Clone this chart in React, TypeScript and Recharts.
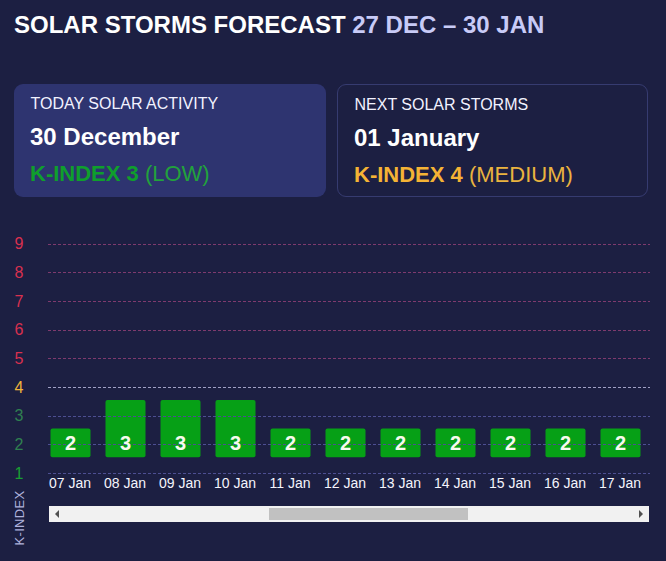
import React from 'react';
import { ComposedChart, Bar, Line, XAxis, YAxis, ReferenceLine, LabelList } from 'recharts';

const DATES = ['07 Jan', '08 Jan', '09 Jan', '10 Jan', '11 Jan', '12 Jan', '13 Jan', '14 Jan', '15 Jan', '16 Jan', '17 Jan'];
const K_VALUES = [2, 3, 3, 3, 2, 2, 2, 2, 2, 2, 2];
const K_FLOOR = 1;
const LEVELS = [1, 2, 3, 4, 5, 6, 7, 8, 9];
const LEVEL_TEXT = ['#18a032', '#2f8050', '#2f8050', '#f0b43a', '#d9304f', '#d9304f', '#d9304f', '#d9304f', '#d9304f'];
const LEVEL_GRID = ['#4d4f92', '#4d4f92', '#4d4f92', '#a0a0c4', '#7e3a6e', '#7e3a6e', '#7e3a6e', '#7e3a6e', '#7e3a6e'];

const data = DATES.map((date, i) => ({ date, k: K_VALUES[i] }));

const FONT = '"Liberation Sans", Arial, sans-serif';
const BG = '#1c1f42';

const YTick = (props: any) => {
  const { y, payload } = props;
  const idx = LEVELS.indexOf(payload.value);
  return (
    <text x={19} y={y} dy="0.35em" textAnchor="middle" fontFamily={FONT} fill={LEVEL_TEXT[idx]} style={{ fontSize: 16 }}>
      {payload.value}
    </text>
  );
};

const BarValue = (props: any) => {
  const { x, y, width, height, value } = props;
  return (
    <text
      x={x + width / 2}
      y={y + height - 14.5}
      dy="0.36em"
      textAnchor="middle"
      fontWeight="bold"
      fontFamily={FONT}
      fill="#f6fbee"
      style={{ fontSize: 20 }}
    >
      {value}
    </text>
  );
};

const GridShape = (props: any) => {
  const { x1, x2, y1, stroke, strokeDasharray } = props;
  const yy = Math.round(y1) + 0.5;
  return <line x1={x1 + 5.5} x2={x2 + 2.5} y1={yy} y2={yy} stroke={stroke} strokeWidth={1} strokeDasharray={strokeDasharray} />;
};

const abs = (s: React.CSSProperties): React.CSSProperties => ({ position: 'absolute', whiteSpace: 'nowrap', ...s });

const Card = ({ left, filled, label, date, kText, levelText, kColor, levelColor }: any) => (
  <div
    style={abs({
      left,
      top: 84,
      width: filled ? 312 : 309,
      height: filled ? 113 : 111,
      borderRadius: 9,
      background: filled ? '#2e3470' : 'transparent',
      border: filled ? 'none' : '1px solid #363b70',
    })}
  >
    <div style={abs({ left: 16.5, top: 95.5 - 84, fontSize: 16, lineHeight: '16px', color: '#f2f2ff' })}>{label}</div>
    <div style={abs({ left: 16, top: 124.7 - 84, fontSize: 24, lineHeight: '24px', fontWeight: 'bold', color: '#ffffff' })}>{date}</div>
    <div style={abs({ left: 16, top: 163.1 - 84, fontSize: 22, lineHeight: '22px' })}>
      <span style={{ fontWeight: 'bold', color: kColor }}>{kText}</span>
      <span style={{ color: levelColor }}> {levelText}</span>
    </div>
  </div>
);

export default function App() {
  return (
    <div style={{ position: 'absolute', left: 0, top: 0, width: 666, height: 561, background: BG, fontFamily: FONT, overflow: 'hidden' }}>
      <div style={abs({ left: 14, top: 12.7, fontSize: 24, lineHeight: '24px', fontWeight: 'bold', color: '#ffffff' })}>
        SOLAR STORMS FORECAST <span style={{ color: '#c8cbf7' }}>27 DEC – 30 JAN</span>
      </div>

      <Card left={14} filled label="TODAY SOLAR ACTIVITY" date="30 December" kText="K-INDEX 3" levelText="(LOW)" kColor="#0f9f2c" levelColor="#22a23c" />
      <Card left={337} filled={false} label="NEXT SOLAR STORMS" date="01 January" kText="K-INDEX 4" levelText="(MEDIUM)" kColor="#f5b335" levelColor="#eab33f" />

      <div style={abs({ left: 0, top: 200 })}>
        <ComposedChart width={666} height={361} data={data} margin={{ top: 43.7, right: 18.5, bottom: 58, left: 0 }} barCategoryGap={15}>
          <XAxis
            dataKey="date"
            interval={0}
            tickLine={false}
            axisLine={false}
            tickSize={3}
            tickMargin={2}
            height={30}
            tick={{ fill: '#f4f4fc', fontSize: 14, fontFamily: FONT }}
          />
          <YAxis
            yAxisId="k"
            type="number"
            domain={[1, 9]}
            ticks={LEVELS}
            interval={0}
            width={42.5}
            tickLine={false}
            axisLine={false}
            tickSize={0}
            tickMargin={0}
            allowDataOverflow
            tick={<YTick />}
          />
          <YAxis yAxisId="bar" type="number" domain={[0.45, 8.45]} hide allowDataOverflow />
          {LEVELS.map((lv, i) => (
            <ReferenceLine key={lv} yAxisId="k" y={lv} stroke={LEVEL_GRID[i]} strokeDasharray="3 2" shape={<GridShape />} />
          ))}
          <Line yAxisId="k" dataKey="k" stroke="none" dot={false} activeDot={false} legendType="none" isAnimationActive={false} />
          <Bar yAxisId="bar" dataKey={(d: any) => [K_FLOOR, d.k]} barSize={40} fill="#06a016" radius={2} isAnimationActive={false}>
            <LabelList dataKey="k" content={<BarValue />} />
          </Bar>
        </ComposedChart>
      </div>

      <div
        style={abs({
          left: 11,
          top: 518,
          transform: 'translate(-50%, -50%) rotate(-90deg)',
          transformOrigin: 'center',
          marginLeft: 8,
          fontSize: 13,
          lineHeight: '13px',
          color: '#aeb1dc',
          letterSpacing: 0.3,
        })}
      >
        K-INDEX
      </div>

      <div style={abs({ left: 49, top: 506, width: 600, height: 16, background: '#f1f1f1' })}>
        <div
          style={abs({
            left: 6,
            top: 4,
            width: 0,
            height: 0,
            borderTop: '4px solid transparent',
            borderBottom: '4px solid transparent',
            borderRight: '4px solid #505050',
          })}
        />
        <div
          style={abs({
            right: 6,
            top: 4,
            width: 0,
            height: 0,
            borderTop: '4px solid transparent',
            borderBottom: '4px solid transparent',
            borderLeft: '4px solid #505050',
          })}
        />
        <div style={abs({ left: 220, top: 2, width: 199, height: 12, background: '#c1c1c1' })} />
      </div>
    </div>
  );
}
